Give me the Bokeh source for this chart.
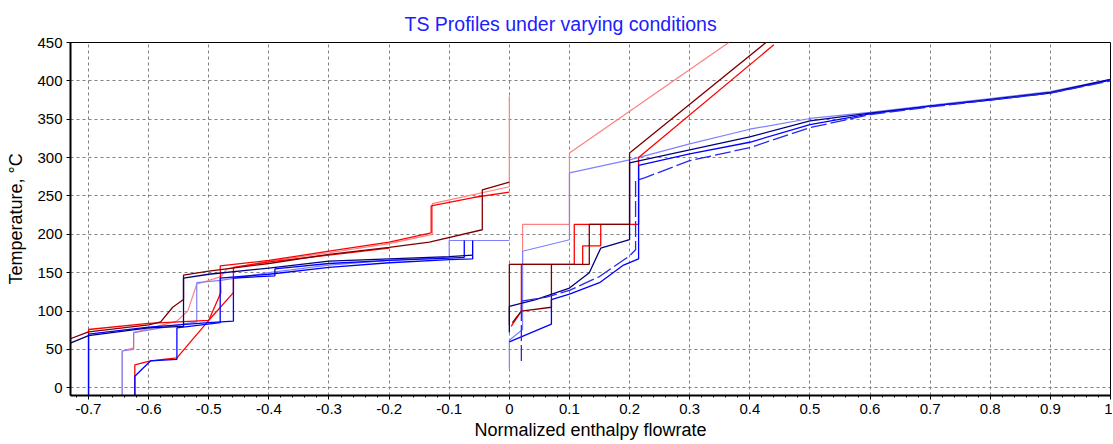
from bokeh.plotting import figure
from bokeh.models import FixedTicker, Title
from bokeh.embed import file_html
from bokeh.resources import INLINE

# ---------------- data ----------------
x_ticks = [-0.7, -0.6, -0.5, -0.4, -0.3, -0.2, -0.1, 0.0, 0.1, 0.2, 0.3, 0.4, 0.5, 0.6, 0.7, 0.8, 0.9, 1.0]
x_tick_labels = ["-0.7", "-0.6", "-0.5", "-0.4", "-0.3", "-0.2", "-0.1", "0", "0.1", "0.2", "0.3",
                 "0.4", "0.5", "0.6", "0.7", "0.8", "0.9", "1"]
y_ticks = [0, 50, 100, 150, 200, 250, 300, 350, 400, 450]

# hot side (negative enthalpy) profiles
hot_red_x = [-0.70, -0.70, -0.60, -0.50, -0.48, -0.481, -0.40, -0.30, -0.20, -0.13, -0.13, -0.06, 0.0]
hot_red_y = [-10, 76, 84, 88, 124, 159, 166, 178, 190, 202, 237, 248, 255]
hot_red2_x = [-0.623, -0.623, -0.597, -0.553, -0.50, -0.459, -0.459, -0.40, -0.30, -0.20]
hot_red2_y = [-10, 30, 35, 39, 88, 124, 157, 164, 173, 182]
hot_pink_x = [-0.644, -0.644, -0.625, -0.625, -0.553, -0.535, -0.52, -0.48, -0.47, -0.40, -0.30, -0.20, -0.128, -0.128, 0.0, 0.0]
hot_pink_y = [-10, 48, 52, 72, 87, 100, 135, 145, 155, 165, 176, 188, 200, 240, 262, 380]
hot_dred_x = [-0.75, -0.70, -0.60, -0.58, -0.56, -0.542, -0.542, -0.50, -0.40, -0.30, -0.20, -0.133, -0.045, -0.045, 0.0]
hot_dred_y = [58, 73, 82, 86, 105, 115, 147, 152, 162, 174, 183, 190, 206, 258, 268]
hot_blue_x = [-0.70, -0.70, -0.60, -0.50, -0.459, -0.459, -0.39, -0.39, -0.30, -0.20, -0.10, -0.075, -0.075]
hot_blue_y = [-10, 70, 79, 85, 87, 143, 146, 155, 162, 166, 169, 170, 192]
hot_blue2_x = [-0.623, -0.623, -0.597, -0.553, -0.553, -0.481, -0.481, -0.40, -0.30, -0.20, -0.10, -0.061, -0.061]
hot_blue2_y = [-10, 15, 35, 37, 78, 85, 143, 148, 157, 163, 167, 168, 192]
hot_lblue_x = [-0.644, -0.644, -0.625, -0.625, -0.55, -0.52, -0.52, -0.48, -0.40, -0.30, -0.20, -0.10, -0.10, 0.0]
hot_lblue_y = [-10, 48, 50, 72, 82, 86, 137, 140, 150, 160, 166, 170, 192, 192]
hot_navy_x = [-0.75, -0.70, -0.60, -0.542, -0.542, -0.50, -0.40, -0.30, -0.20, -0.10, -0.061]
hot_navy_y = [52, 68, 78, 80, 143, 148, 156, 165, 168, 171, 173]

# cold side (positive enthalpy) profiles
cold_red_x = [0.003, 0.02, 0.02, 0.108, 0.108, 0.215, 0.215, 0.44]
cold_red_y = [80, 100, 161, 161, 213, 213, 300, 447]
cold_red2_x = [0.122, 0.122, 0.152, 0.152]
cold_red2_y = [161, 185, 185, 213]
cold_pink_x = [0.0, 0.022, 0.022, 0.10, 0.10, 0.365]
cold_pink_y = [161, 161, 213, 213, 306, 450]
cold_dred_x = [0.0, 0.0, 0.07, 0.133, 0.133, 0.20, 0.20, 0.43]
cold_dred_y = [82, 161, 161, 161, 213, 213, 306, 452]
cold_dred2_x = [0.005, 0.02, 0.07, 0.07]
cold_dred2_y = [85, 100, 105, 161]
cold_lblue_x = [0.0, 0.0, 0.022, 0.022, 0.10, 0.10, 0.20, 0.30, 0.40, 0.50, 0.60, 0.70, 0.80, 0.90, 1.0]
cold_lblue_y = [25, 62, 76, 178, 193, 280, 297, 318, 337, 351, 359, 368, 377, 386, 402]
cold_navy_x = [0.0, 0.0, 0.044, 0.10, 0.133, 0.152, 0.20, 0.20, 0.30, 0.40, 0.50, 0.60, 0.70, 0.80, 0.90, 1.0]
cold_navy_y = [72, 106, 115, 130, 150, 182, 193, 293, 310, 327, 348, 358, 367, 376, 385, 402]
cold_blue_x = [0.0, 0.07, 0.07, 0.10, 0.15, 0.19, 0.215, 0.215, 0.30, 0.40, 0.50, 0.60, 0.70, 0.80, 0.90, 1.0]
cold_blue_y = [60, 83, 115, 122, 137, 160, 168, 290, 305, 320, 343, 357, 367, 375, 384, 401]
cold_blue2_x = [0.02, 0.02, 0.06, 0.10, 0.15, 0.20, 0.21, 0.21, 0.226, 0.30, 0.40, 0.50, 0.60, 0.70, 0.80, 0.90, 1.0]
cold_blue2_y = [35, 113, 118, 127, 145, 172, 180, 270, 274, 296, 313, 339, 356, 366, 375, 384, 400]

RED, PINK, DRED = "#FF0000", "#FF8080", "#800000"
BLUE, LBLUE, NAVY, BLUE2 = "#0000FF", "#8080FF", "#000080", "#2828E8"

series = [
    (hot_pink_x, hot_pink_y, PINK, 1.2, "solid"),
    (hot_lblue_x, hot_lblue_y, LBLUE, 1.2, "solid"),
    (hot_red_x, hot_red_y, RED, 1.3, "solid"),
    (hot_red2_x, hot_red2_y, RED, 1.3, "solid"),
    (hot_dred_x, hot_dred_y, DRED, 1.3, "solid"),
    (hot_blue_x, hot_blue_y, BLUE, 1.3, "solid"),
    (hot_blue2_x, hot_blue2_y, BLUE, 1.3, "solid"),
    (hot_navy_x, hot_navy_y, NAVY, 1.3, "solid"),
    (cold_pink_x, cold_pink_y, PINK, 1.2, "solid"),
    (cold_lblue_x, cold_lblue_y, LBLUE, 1.2, "solid"),
    (cold_red_x, cold_red_y, RED, 1.3, "solid"),
    (cold_red2_x, cold_red2_y, RED, 1.3, "solid"),
    (cold_dred_x, cold_dred_y, DRED, 1.3, "solid"),
    (cold_dred2_x, cold_dred2_y, DRED, 1.3, "solid"),
    (cold_navy_x, cold_navy_y, NAVY, 1.3, "solid"),
    (cold_blue_x, cold_blue_y, BLUE, 1.3, "solid"),
    (cold_blue2_x, cold_blue2_y, BLUE2, 1.3, "16 4"),
]

FONT = "Liberation Sans"

p = figure(width=1112, height=443, output_backend="svg", toolbar_location=None,
           x_range=(-0.73, 1.0), y_range=(-10, 450),
           min_border_left=70, min_border_right=2, min_border_top=42, min_border_bottom=48)
p.title = Title(text="TS Profiles under varying conditions", align="left", offset=334,
                text_font=FONT, text_font_size="19.5px", text_font_style="normal",
                text_color="#2020FF", standoff=15)

for xs, ys, col, lw, dash in series:
    p.line(xs, ys, line_color=col, line_width=lw, line_dash=dash)

p.xaxis.ticker = FixedTicker(ticks=x_ticks, minor_ticks=[round(-0.72 + 0.02 * i, 2) for i in range(87)])
p.xaxis.major_label_overrides = dict(zip(x_ticks, x_tick_labels))
p.yaxis.ticker = FixedTicker(ticks=y_ticks)

for ax in (p.xaxis[0], p.yaxis[0]):
    ax.axis_line_width = 2
    ax.axis_line_color = "black"
    ax.major_tick_line_color = "black"
    ax.minor_tick_line_color = "black"
    ax.major_tick_in = 0
    ax.major_tick_out = 4
    ax.minor_tick_in = 0
    ax.minor_tick_out = 2
    ax.major_label_text_font = FONT
    ax.major_label_text_font_size = "15px"
    ax.major_label_text_color = "black"
    ax.axis_label_text_font = FONT
    ax.axis_label_text_font_size = "18px"
    ax.axis_label_text_font_style = "normal"
    ax.axis_label_text_color = "black"
p.yaxis.minor_tick_line_color = None
p.xaxis.axis_label = "Normalized enthalpy flowrate"
p.yaxis.axis_label = "Temperature, °C"
p.xaxis.major_label_standoff = 4
p.yaxis.major_label_standoff = 4
p.xaxis.axis_label_standoff = 3
p.yaxis.axis_label_standoff = 8

p.xgrid.ticker = FixedTicker(ticks=x_ticks)
p.ygrid.ticker = FixedTicker(ticks=y_ticks)
for g in (p.xgrid[0], p.ygrid[0]):
    g.grid_line_color = "#808080"
    g.grid_line_dash = "3 3"
    g.grid_line_width = 1

p.outline_line_color = "black"
p.outline_line_width = 1
p.background_fill_color = "white"
p.border_fill_color = "white"

open("out.html", "w").write(file_html(p, INLINE))
